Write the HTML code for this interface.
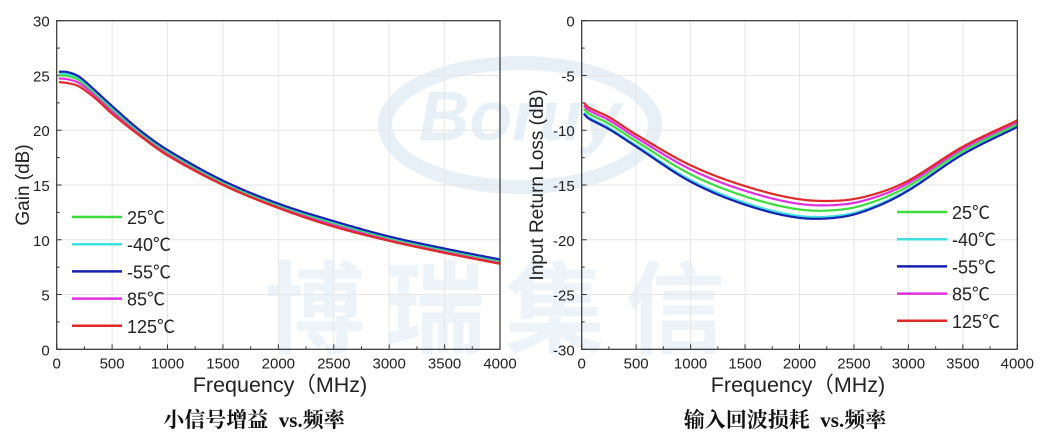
<!DOCTYPE html>
<html><head><meta charset="utf-8"><style>
html,body{margin:0;padding:0;background:#fff;}
svg{display:block;font-family:"Liberation Sans","Noto Sans CJK SC",sans-serif;}
</style></head><body>
<svg id="s" width="1051" height="448" viewBox="0 0 1051 448" xmlns="http://www.w3.org/2000/svg">
<g opacity="0.4">
<ellipse cx="520" cy="125" rx="135" ry="62" fill="none" stroke="#c5d9ec" stroke-width="14"/>
<text x="520" y="140" text-anchor="middle" font-size="70" font-weight="bold" font-style="italic" fill="#c5d9ec">Boruy</text>
<text x="265" y="345" font-size="100" font-weight="bold" fill="#d2e2f1" font-family="Noto Sans CJK SC,sans-serif" letter-spacing="20">博瑞集信</text>
</g>
<g id="g"></g>
<text x="280" y="392" text-anchor="middle" font-size="21.5" fill="#222">Frequency（MHz)</text>
<text x="798" y="392" text-anchor="middle" font-size="21.5" fill="#222">Frequency（MHz)</text>
<text x="29" y="185" text-anchor="middle" font-size="19" fill="#222" transform="rotate(-90 29 185)">Gain (dB)</text>
<text x="543" y="185" text-anchor="middle" font-size="19" fill="#222" transform="rotate(-90 543 185)">Input Return Loss (dB)</text>
<text x="254" y="427" text-anchor="middle" font-size="21" font-weight="bold" fill="#111" font-family="Liberation Serif,Noto Serif CJK SC,serif" xml:space="preserve">小信号增益  vs.频率</text>
<text x="785" y="427" text-anchor="middle" font-size="21" font-weight="bold" fill="#111" font-family="Liberation Serif,Noto Serif CJK SC,serif" xml:space="preserve">输入回波损耗  vs.频率</text>
</svg>
<script>
var g=document.getElementById('g'),h='';
function ax(x0,x1,y0,y1,ymin,ymax){
 var X=function(f){return x0+(x1-x0)*f/4000},Y=function(v){return y1-(y1-y0)*(v-ymin)/(ymax-ymin)};
 for(var f=0;f<=4000;f+=500){h+='<line x1="'+X(f)+'" y1="'+y0+'" x2="'+X(f)+'" y2="'+y1+'" stroke="#e6e6e6"/>';
  h+='<text x="'+X(f)+'" y="'+(y1+19)+'" text-anchor="middle" font-size="15" fill="#222">'+f+'</text>';
  h+='<line x1="'+X(f)+'" y1="'+y1+'" x2="'+X(f)+'" y2="'+(y1-5)+'" stroke="#333"/>';
  if(f<4000)h+='<line x1="'+X(f+250)+'" y1="'+y1+'" x2="'+X(f+250)+'" y2="'+(y1-3)+'" stroke="#333"/>';}
 for(var i=0;i<=6;i++){var v=ymin+i*5;h+='<line x1="'+x0+'" y1="'+Y(v)+'" x2="'+x1+'" y2="'+Y(v)+'" stroke="#e6e6e6"/>';
  h+='<text x="'+(x0-7)+'" y="'+(Y(v)+6)+'" text-anchor="end" font-size="15" fill="#222">'+v+'</text>';
  h+='<line x1="'+x0+'" y1="'+Y(v)+'" x2="'+(x0+5)+'" y2="'+Y(v)+'" stroke="#333"/>';
  if(i<6)h+='<line x1="'+x0+'" y1="'+Y(v+2.5)+'" x2="'+(x0+3)+'" y2="'+Y(v+2.5)+'" stroke="#333"/>';}
 return [X,Y];
}
function slope(p,i){var n=p.length;if(i==0)return (p[1][1]-p[0][1])/(p[1][0]-p[0][0]);if(i==n-1)return (p[n-1][1]-p[n-2][1])/(p[n-1][0]-p[n-2][0]);return (p[i+1][1]-p[i-1][1])/(p[i+1][0]-p[i-1][0]);}
function interp(p,f){for(var i=0;i<p.length-1;i++){if(f<=p[i+1][0]){var a=p[i],b=p[i+1],dx=b[0]-a[0],t=(f-a[0])/dx;
 var m0=slope(p,i)*dx,m1=slope(p,i+1)*dx,t2=t*t,t3=t2*t;
 return (2*t3-3*t2+1)*a[1]+(t3-2*t2+t)*m0+(-2*t3+3*t2)*b[1]+(t3-t2)*m1;}}return p[p.length-1][1];}
function mix(A,B,t){return A.map(function(p,i){return [p[0],p[1]+(B[i][1]-p[1])*t]});}
function curve(X,Y,pts,c){var d='';for(var f=pts[0][0];f<=4000;f+=10){d+=(d?'L':'M')+X(f).toFixed(1)+','+Y(interp(pts,f)).toFixed(1);}h+='<path d="'+d+'" fill="none" stroke="'+c+'" stroke-width="2.2"/>';}
var cols={'25':'#3ddc3d','-40':'#3ee0e0','-55':'#1822b0','85':'#e030e0','125':'#e02a2a'};
var L=ax(56.7,500,20.7,349.3,0,30);
var gA=[[20,25.35],[100,25.3],[200,24.9],[350,23.6],[500,22.2],[750,20],[1000,18.2],[1500,15.4],[2000,13.3],[2500,11.7],[3000,10.3],[3500,9.2],[4000,8.2]];
var gB=[[20,24.4],[100,24.3],[200,24.0],[350,22.9],[500,21.5],[750,19.5],[1000,17.7],[1500,15],[2000,12.9],[2500,11.2],[3000,9.9],[3500,8.8],[4000,7.8]];
curve(L[0],L[1],mix(gA,gB,0.65),cols['85']);curve(L[0],L[1],mix(gA,gB,1),cols['125']);
curve(L[0],L[1],mix(gA,gB,0.35),cols['25']);curve(L[0],L[1],mix(gA,gB,0.15),cols['-40']);curve(L[0],L[1],gA,cols['-55']);
var R=ax(581.7,1017.3,20.7,349.3,-30,0);
var rA=[[20,-8.5],[60,-8.9],[250,-9.9],[500,-11.5],[1000,-14.7],[1500,-16.8],[2000,-18],[2400,-17.9],[2700,-17],[3000,-15.5],[3500,-12.2],[4000,-9.7]];
var rB=[[20,-7.5],[60,-7.9],[250,-8.8],[500,-10.4],[1000,-13.2],[1500,-15.1],[2000,-16.3],[2400,-16.4],[2700,-15.8],[3000,-14.6],[3500,-11.5],[4000,-9.1]];
curve(R[0],R[1],mix(rA,rB,0.1),cols['-40']);curve(R[0],R[1],rA,cols['-55']);curve(R[0],R[1],mix(rA,rB,0.45),cols['25']);
curve(R[0],R[1],mix(rA,rB,0.75),cols['85']);curve(R[0],R[1],rB,cols['125']);
h+='<rect x="56.7" y="20.7" width="443.3" height="328.6" fill="none" stroke="#333" stroke-width="1.2"/>';
h+='<rect x="581.7" y="20.7" width="435.6" height="328.6" fill="none" stroke="#333" stroke-width="1.2"/>';
function leg(x,y,dy){['25','-40','-55','85','125'].forEach(function(n,i){var yy=y+i*dy;h+='<line x1="'+x+'" y1="'+yy+'" x2="'+(x+50)+'" y2="'+yy+'" stroke="'+cols[n]+'" stroke-width="2.5"/><text x="'+(x+55)+'" y="'+(yy+7)+'" font-size="18" fill="#222">'+n+'℃</text>';});}
leg(72,217,27.2);leg(897,212,27.2);
g.innerHTML=h;
</script>
</body></html>
